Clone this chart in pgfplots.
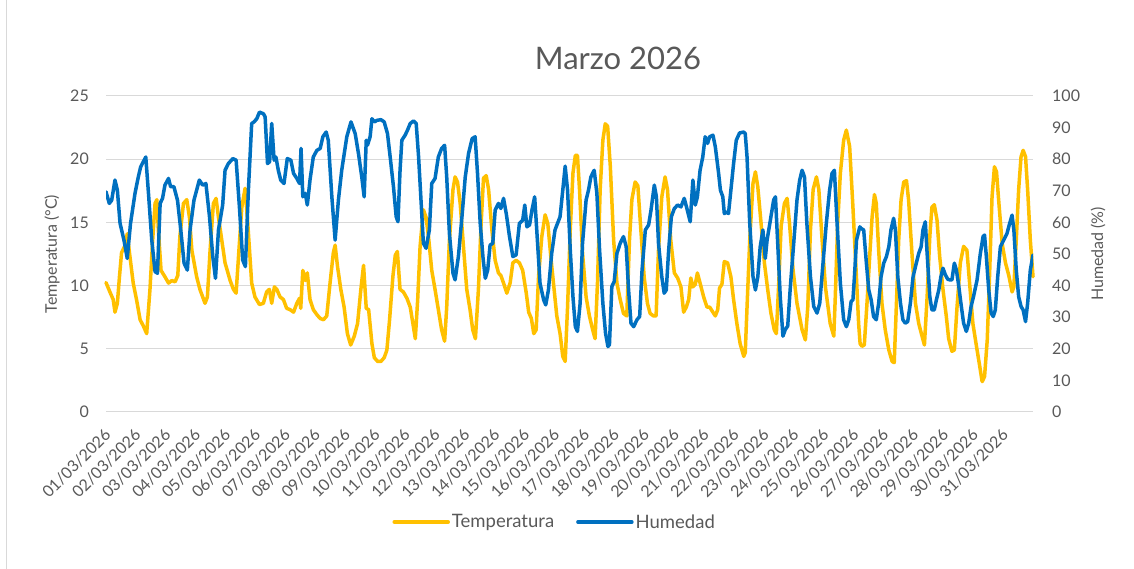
\documentclass[border=0pt]{standalone}
\usepackage{fontspec}
\setmainfont{Lato}
\usepackage{pgfplots}
\pgfplotsset{compat=1.18}
\usepackage{pgfplotstable}
\definecolor{tcol}{HTML}{FFC000}
\definecolor{hcol}{HTML}{0070C0}
\definecolor{txt}{HTML}{595959}
\definecolor{gridc}{HTML}{D9D9D9}

\pgfplotstableread{
d t
0 10.24
0.13 9.5
0.24 8.9
0.30 7.9
0.38 8.6
0.45 10.7
0.52 12.6
0.64 13.2
0.71 14.1
0.80 12.3
0.91 10.2
1.02 8.9
1.14 7.3
1.25 6.8
1.36 6.2
1.47 9.7
1.56 13.6
1.64 16.5
1.70 16.8
1.75 14.4
1.84 11.2
1.97 10.7
2.09 10.2
2.20 10.4
2.31 10.3
2.40 10.8
2.47 13.9
2.59 16.5
2.70 16.8
2.79 15.4
2.87 12.8
3.03 10.7
3.14 9.7
3.31 8.6
3.39 9.1
3.48 12.8
3.59 16.5
3.68 16.9
3.76 15.4
3.87 13.6
3.98 11.8
4.15 10.4
4.26 9.7
4.35 9.4
4.43 12.3
4.54 16.2
4.65 17.7
4.74 14.9
4.87 10.2
4.98 9.1
5.13 8.5
5.26 8.6
5.37 9.5
5.46 9.7
5.54 8.6
5.63 9.9
5.71 9.7
5.82 9.1
5.93 8.9
6.04 8.2
6.15 8.1
6.27 7.9
6.38 8.6
6.47 9.0
6.51 8.2
6.58 11.2
6.66 10.4
6.73 11.0
6.82 8.9
6.93 8.1
7.05 7.7
7.16 7.4
7.27 7.3
7.38 7.6
7.49 10.2
7.60 12.6
7.66 13.2
7.74 11.5
7.85 9.7
7.96 8.3
8.07 6.2
8.18 5.3
8.30 6.0
8.41 7.0
8.52 9.7
8.61 11.6
8.70 8.2
8.78 8.1
8.89 5.4
8.97 4.3
9.08 4.0
9.19 4.0
9.30 4.3
9.39 4.9
9.48 7.3
9.59 10.7
9.67 12.4
9.74 12.7
9.83 9.7
9.94 9.5
10.06 9.0
10.17 8.3
10.26 7.0
10.34 5.8
10.42 8.9
10.50 13.1
10.61 16.0
10.70 15.4
10.78 13.9
10.89 11.2
11.00 9.7
11.11 8.1
11.22 6.5
11.32 5.6
11.39 8.3
11.48 13.6
11.60 17.6
11.67 18.6
11.75 18.2
11.84 16.5
11.95 13.1
12.06 9.7
12.17 8.1
12.26 6.5
12.35 5.8
12.45 9.7
12.54 14.9
12.62 18.5
12.71 18.7
12.79 17.6
12.90 14.4
13.01 12.0
13.12 11.0
13.20 10.8
13.29 10.2
13.40 9.4
13.51 10.2
13.60 11.8
13.71 12.0
13.82 11.8
13.93 11.2
14.05 9.4
14.13 7.9
14.22 7.4
14.30 6.2
14.38 6.5
14.46 10.7
14.57 13.9
14.68 15.6
14.77 14.9
14.87 12.3
14.98 9.7
15.07 7.6
15.18 6.2
15.27 4.4
15.35 4.0
15.43 8.3
15.52 14.4
15.61 18.9
15.69 20.3
15.76 20.3
15.83 17.6
15.93 12.6
16.05 9.1
16.16 7.6
16.27 6.5
16.35 5.8
16.43 10.2
16.52 17.6
16.61 21.5
16.69 22.8
16.77 22.6
16.86 19.4
16.97 13.6
17.08 10.2
17.19 8.9
17.30 7.8
17.41 7.6
17.50 13.6
17.58 16.8
17.69 18.2
17.78 17.9
17.88 14.4
17.99 10.7
18.10 8.6
18.19 7.8
18.30 7.6
18.39 7.6
18.47 12.8
18.58 17.0
18.69 18.6
18.77 17.6
18.88 13.6
19.00 11.0
19.11 10.6
19.22 9.9
19.31 7.9
19.40 8.3
19.48 8.9
19.55 10.6
19.62 9.9
19.70 10.1
19.77 11.0
19.86 10.2
19.98 9.1
20.09 8.3
20.18 8.3
20.37 7.6
20.45 8.1
20.51 9.8
20.59 10.1
20.67 11.9
20.78 11.8
20.89 10.7
20.98 8.9
21.09 7.0
21.20 5.4
21.32 4.4
21.37 4.7
21.43 8.3
21.52 13.6
21.63 18.1
21.71 19.0
21.79 17.8
21.90 14.9
22.01 11.8
22.12 9.7
22.23 7.8
22.34 6.5
22.41 6.2
22.49 10.2
22.57 14.7
22.68 16.5
22.77 16.9
22.85 14.9
22.97 11.2
23.10 8.6
23.27 6.5
23.38 5.7
23.46 8.3
23.55 14.4
23.64 17.6
23.75 18.6
23.83 17.6
23.94 13.6
24.05 9.9
24.21 7.0
24.33 6.0
24.38 9.1
24.46 14.9
24.55 18.9
24.66 21.5
24.75 22.3
24.86 21.0
24.97 16.2
25.08 11.0
25.16 7.0
25.21 5.4
25.27 5.2
25.35 5.3
25.44 8.6
25.53 12.3
25.61 15.4
25.69 17.2
25.75 16.5
25.83 12.8
25.94 8.6
26.05 6.5
26.17 4.9
26.28 4.0
26.35 3.9
26.42 8.3
26.50 13.6
26.58 16.8
26.67 18.2
26.76 18.3
26.83 16.8
26.95 12.3
27.06 8.6
27.17 7.0
27.28 6.0
27.36 5.3
27.45 9.1
27.54 13.9
27.61 16.2
27.69 16.4
27.78 15.2
27.87 12.3
27.98 9.7
28.09 7.6
28.17 5.8
28.28 4.8
28.36 4.9
28.45 8.3
28.56 11.8
28.67 13.1
28.78 12.8
28.87 10.2
28.98 7.0
29.10 5.2
29.21 3.6
29.29 2.4
29.37 2.8
29.46 5.7
29.54 11.0
29.62 17.0
29.70 19.4
29.77 19.0
29.84 16.8
29.96 13.3
30.07 11.8
30.18 10.8
30.29 9.5
30.35 9.9
30.43 13.6
30.51 17.6
30.59 20.2
30.66 20.7
30.74 20.2
30.81 17.6
30.90 13.6
30.99 10.7
}\temptable

\pgfplotstableread{
d h
0 69.7
0.11 66
0.19 67
0.30 73.4
0.38 70.2
0.47 59.7
0.60 54.4
0.71 48.6
0.82 59.7
0.97 69.2
1.08 74.4
1.16 77.6
1.33 80.7
1.42 69.2
1.53 54.4
1.64 44.4
1.72 43.9
1.81 66
1.89 67.6
1.97 71.8
2.09 73.9
2.16 71.3
2.27 71.3
2.39 67
2.50 57.6
2.61 47.1
2.72 44.9
2.81 57.6
2.94 67
3.12 73.4
3.23 71.8
3.34 72.3
3.46 61.8
3.57 49.2
3.66 42.3
3.76 57.6
3.90 65.5
3.98 76.5
4.09 78.6
4.24 80.2
4.35 79.7
4.46 64.9
4.57 48.1
4.66 46
4.76 70.2
4.87 91.3
4.95 91.8
5.04 92.8
5.13 94.9
5.26 94.4
5.32 93.4
5.40 78.6
5.47 79.2
5.54 91.3
5.62 79.7
5.68 80.7
5.76 76.5
5.84 73.4
5.95 72.3
6.06 80.2
6.18 79.7
6.27 75.5
6.38 73.9
6.47 72.3
6.52 83.4
6.58 68.1
6.66 69.2
6.73 65.5
6.82 73.4
6.93 80.7
7.05 82.8
7.16 83.4
7.25 87.1
7.36 88.6
7.43 86
7.55 68.1
7.66 54.4
7.77 67.1
7.88 76.5
8.05 87.1
8.19 91.8
8.33 88.1
8.44 81.8
8.55 74.4
8.63 68.1
8.70 86
8.74 84.4
8.83 87.1
8.89 92.8
8.97 91.8
9.06 92.3
9.19 92.5
9.30 91.8
9.41 88.1
9.50 80.7
9.61 71.3
9.70 61.8
9.76 60.2
9.83 76.5
9.89 86
10.00 87.6
10.08 89.2
10.17 91.3
10.28 92.1
10.37 91.3
10.45 80.7
10.53 67.1
10.61 53.4
10.70 51.8
10.81 57.6
10.89 72.3
11.00 73.9
11.11 80.7
11.22 83.4
11.32 84.4
11.39 74.4
11.48 56.5
11.60 43.9
11.67 41.8
11.78 49.2
11.90 61.8
12.01 74.4
12.12 81.8
12.24 86.5
12.34 87.1
12.42 75.5
12.51 59.7
12.60 49.2
12.68 42.3
12.76 44.9
12.84 52.8
12.93 53.4
13.01 63.9
13.12 66
13.20 64.4
13.29 67.6
13.38 62.8
13.49 55.5
13.60 49.2
13.71 49.7
13.82 59.7
13.93 60.7
14.00 65.5
14.07 58.6
14.16 59.2
14.24 63.9
14.33 68.1
14.40 57.6
14.51 40.7
14.63 35.5
14.70 33.9
14.79 38.6
14.90 50.2
15.01 57.6
15.18 61.8
15.27 70.2
15.35 77.8
15.43 70.2
15.52 51.3
15.61 36.5
15.69 27
15.76 25.5
15.85 34.4
15.93 53.4
16.05 67.1
16.13 70.2
16.21 74.4
16.32 76.5
16.41 69.2
16.50 51.3
16.61 34.4
16.70 24.9
16.78 20.7
16.83 21.3
16.91 39.7
16.99 41.3
17.08 50.2
17.19 53.4
17.30 55.5
17.39 52.3
17.47 38.6
17.55 28.1
17.64 27
17.75 29.2
17.84 30.2
17.92 44.9
18.03 57.6
18.14 59.2
18.22 63.9
18.33 71.8
18.40 68.1
18.47 53.4
18.58 42.8
18.66 37.6
18.73 38.6
18.81 51.3
18.90 61.8
19.00 64.4
19.11 65.5
19.22 64.9
19.33 67.6
19.42 64.4
19.53 60.2
19.62 73.4
19.70 65.5
19.77 68.1
19.86 76.5
19.95 80.7
20.03 87.1
20.11 85
20.18 87.1
20.29 87.6
20.37 83.9
20.48 75.5
20.54 70.2
20.62 68.1
20.67 62.8
20.76 63.3
20.81 62.8
20.89 70.2
20.98 78.6
21.07 86
21.18 88.3
21.32 88.6
21.37 88.1
21.43 80.7
21.52 59.7
21.63 42.8
21.71 38.6
21.79 42.8
21.87 52.3
21.96 57.6
22.04 48.6
22.10 54.4
22.21 60.7
22.32 67.1
22.38 68.1
22.45 54.4
22.54 36.5
22.63 24
22.71 26.1
22.79 27.2
22.87 38.6
22.99 53.4
23.10 67.1
23.19 73.4
23.27 76.5
23.35 74.4
23.43 59.7
23.55 42.8
23.66 33.4
23.77 31.3
23.86 34.4
23.97 47.1
24.08 59.7
24.19 70.2
24.27 75.5
24.35 76.5
24.44 59.7
24.55 40.7
24.66 29.2
24.75 27
24.83 29.2
24.91 35
24.97 35.5
25.02 42.8
25.09 54.4
25.20 58.6
25.24 58.1
25.33 57.6
25.42 47.1
25.50 38.6
25.58 35.5
25.66 30.2
25.75 29.2
25.83 34.4
25.91 42.8
26.00 47.1
26.09 49.2
26.17 52.3
26.24 57.6
26.33 61.3
26.39 57.6
26.47 42.8
26.56 34.4
26.64 29.2
26.72 28.1
26.80 28.6
26.89 34.4
26.98 42.8
27.06 46
27.17 50.2
27.25 52.3
27.31 57.6
27.39 60.2
27.45 50.2
27.54 36.5
27.61 32.3
27.69 32.3
27.76 35.5
27.84 38.6
27.91 42.8
27.98 45.5
28.06 43.4
28.14 42
28.21 41.8
28.28 41.8
28.36 47.1
28.43 44.9
28.51 39.7
28.58 34.4
28.67 28.1
28.76 25.5
28.84 28.1
28.92 33.4
29.00 36.5
29.12 41.8
29.23 50.2
29.32 55.5
29.37 56
29.43 49.2
29.51 38.6
29.59 31.3
29.66 30.2
29.73 32.3
29.81 42.8
29.90 52.3
30.01 54.4
30.12 56.5
30.21 59.7
30.29 62.3
30.35 57.6
30.43 44.9
30.51 36.5
30.59 33.4
30.66 32.3
30.74 28.6
30.81 34.4
30.90 44.9
30.99 49.7
}\humtable

\begin{document}
\begin{tikzpicture}[x=1pt,y=1pt]
\useasboundingbox (0,0) rectangle (1134,569);
\fill[white] (0,0) rectangle (1134,569);
\draw[gridc, line width=1pt] (6.5,0) -- (6.5,569);
\begin{axis}[
  at={(106pt,157pt)}, anchor=south west,
  scale only axis, width=927pt, height=316pt,
  xmin=0, xmax=30.99, ymin=0, ymax=25,
  ytick={0,5,...,25},
  xtick={0,...,30},
  xticklabels={01/03/2026,02/03/2026,03/03/2026,04/03/2026,05/03/2026,06/03/2026,07/03/2026,08/03/2026,09/03/2026,10/03/2026,11/03/2026,12/03/2026,13/03/2026,14/03/2026,15/03/2026,16/03/2026,17/03/2026,18/03/2026,19/03/2026,20/03/2026,21/03/2026,22/03/2026,23/03/2026,24/03/2026,25/03/2026,26/03/2026,27/03/2026,28/03/2026,29/03/2026,30/03/2026,31/03/2026},
  axis line style={draw=none},
  major tick length=0pt,
  ymajorgrids, grid style={gridc, line width=1pt},
  /pgf/number format/assume math mode=true,
  tick label style={font=\fontsize{16}{19}\selectfont, text=txt},
  yticklabel style={anchor=east, inner sep=0pt, xshift=-17pt},
  xticklabel style={yshift=-20pt, xshift=2pt, rotate=45, anchor=east, inner sep=0pt},
  ylabel={Temperatura (°C)},
  ylabel style={font=\fontsize{16}{19}\selectfont, text=txt, at={(axis description cs:-0.0583,0.5)}, anchor=center, inner sep=0pt},
  legend style={at={(0.484,-0.348)}, anchor=center, draw=none, fill=none,
    font=\fontsize{18.5}{22}\selectfont, text=txt,
    /tikz/every even column/.append style={column sep=20pt}},
  legend columns=2,
  legend image code/.code={\draw[#1] (0pt,0pt) -- (54pt,0pt);},
  clip=false,
]
\addplot[tcol, line width=3.5pt, line join=round, line cap=round] table[x=d, y=t] {\temptable};
\addlegendentry{Temperatura}
\addlegendimage{hcol, line width=3.5pt, line cap=round}
\addlegendentry{Humedad}
\end{axis}
\begin{axis}[
  at={(106pt,157pt)}, anchor=south west,
  scale only axis, width=927pt, height=316pt,
  xmin=0, xmax=30.99, ymin=0, ymax=100,
  ytick={0,10,...,100},
  axis y line*=right, hide x axis,
  axis line style={draw=none},
  major tick length=0pt,
  /pgf/number format/assume math mode=true,
  tick label style={font=\fontsize{16}{19}\selectfont, text=txt},
  yticklabel style={anchor=west, inner sep=0pt, xshift=19pt},
  ylabel={Humedad (\%)},
  ylabel style={font=\fontsize{16}{19}\selectfont, text=txt, at={(axis description cs:1.0701,0.5)}, anchor=center, inner sep=0pt},
]
\addplot[hcol, line width=3.5pt, line join=round, line cap=round] table[x=d, y=h] {\humtable};
\end{axis}
\node[text=txt, font=\fontsize{31}{36}\selectfont] at (618,511) {Marzo 2026};
\end{tikzpicture}
\end{document}
